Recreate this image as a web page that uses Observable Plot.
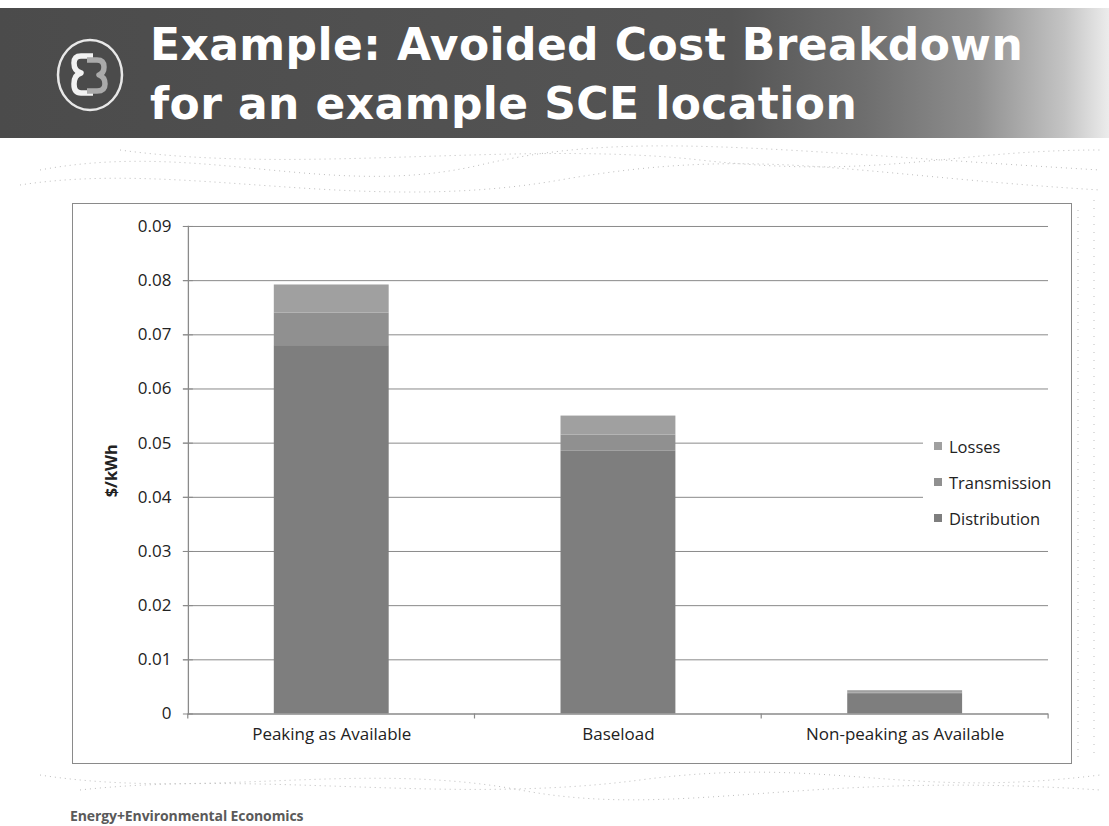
<!DOCTYPE html>
<html>
<head>
<meta charset="utf-8">
<script src="https://cdn.jsdelivr.net/npm/d3@7"></script>
<script src="https://cdn.jsdelivr.net/npm/@observablehq/plot@0.6"></script>
<style>
  html, body { margin: 0; padding: 0; background: #fff; }
  #slide { position: relative; width: 1109px; height: 826px; overflow: hidden; background: #fff; font-family: "Open Sans", "Noto Sans", sans-serif; }
  #header { position: absolute; left: 0; top: 8px; width: 1109px; height: 130px;
    background: linear-gradient(to right, #4b4b4b 0%, #555 66%, #6e6e6e 78%, #8e8e8e 88%, #c4c4c4 96%, #ececec 100%); }
  #title { position: absolute; left: 150px; top: 15px; color: #fff; font-family: "DejaVu Sans", Verdana, sans-serif; font-weight: bold; font-size: 44px; line-height: 59px; letter-spacing: 0.4px; white-space: nowrap; }
  #logo { position: absolute; left: 55px; top: 37px; }
  #deco { position: absolute; left: 0; top: 0; }
  #box { position: absolute; left: 72px; top: 203px; width: 998px; height: 559px; border: 1px solid #8a8a8a; background: #fff; }
  #plot { position: absolute; left: 0; top: 0; }
  #legend { position: absolute; left: 850px; top: 224px; width: 140px; padding-left: 11px; box-sizing: border-box; background: #fff; font-family: "Open Sans", sans-serif; font-size: 16.5px; color: #222; }
  #legend div { height: 36px; display: flex; align-items: center; white-space: nowrap; }
  #legend span.sw { display: inline-block; flex: 0 0 8px; width: 8px; height: 8px; margin-right: 7px; }
  #footer { position: absolute; left: 70px; top: 806px; font-family: "Open Sans", sans-serif; font-weight: bold; font-size: 14px; color: #5a5a5a; letter-spacing: -0.1px; }
</style>
</head>
<body>
<div id="slide">
  <svg id="deco" width="1109" height="826">
    <g fill="none" stroke="#bdbdbd" stroke-width="1" stroke-dasharray="1 4">
      <path d="M40 170 C 200 140, 330 200, 480 165 S 760 150, 1100 170"/>
      <path d="M20 185 C 180 160, 360 215, 560 180 S 850 175, 1100 190"/>
      <path d="M120 150 C 300 175, 520 140, 700 160 S 950 150, 1100 150"/>
      <path d="M40 775 C 200 800, 360 760, 520 790 S 800 770, 1100 790"/>
      <path d="M80 790 C 260 770, 450 805, 640 780 S 900 800, 1100 775"/>
      <path d="M1078 210 L 1078 760" stroke-dasharray="1 6"/>
      <path d="M1094 200 L 1094 760" stroke-dasharray="1 7"/>
    </g>
  </svg>
  <div id="header"></div>
  <svg id="logo" width="70" height="76">
    <ellipse cx="35" cy="38" rx="32" ry="35" fill="#4b4b4b" stroke="#e8e8e8" stroke-width="2.5"/>
    <path d="M38 19 H26 Q19 19 19 26 Q19 34 26 36 Q19 38 19 47 Q19 56 26 56 H38" fill="none" stroke="#f2f2f2" stroke-width="5.5" stroke-linejoin="round"/>
    <path d="M32 23 H42 Q49 23 49 30 Q49 36 44 38 Q50 40 50 47 Q50 54 42 54 H32" fill="none" stroke="#aaaaaa" stroke-width="5.5" stroke-linejoin="round"/>
  </svg>
  <div id="title">Example: Avoided Cost Breakdown<br>for an example SCE location</div>
  <div id="box">
    <div id="plot"></div>
    <div id="legend"></div>
  </div>
  <div id="footer">Energy+Environmental Economics</div>
</div>
<script>
// ---- Data ----
const categories = ["Peaking as Available", "Baseload", "Non-peaking as Available"];
const components = ["Distribution", "Transmission", "Losses"];
const distribution = [0.0680, 0.0485, 0.0036];
const transmission = [0.0060, 0.0030, 0.0003];
const losses       = [0.0052, 0.0035, 0.0004];
const yTicks = [0, 0.01, 0.02, 0.03, 0.04, 0.05, 0.06, 0.07, 0.08, 0.09];
const colors = ["#7e7e7e", "#909090", "#a0a0a0"];

const series = { Distribution: distribution, Transmission: transmission, Losses: losses };
const rows = [];
categories.forEach((c, i) => {
  components.forEach(k => rows.push({ category: c, component: k, value: series[k][i] }));
});

const axisColor = "#8a8a8a";
const chart = Plot.plot({
  width: 999,
  height: 560,
  marginLeft: 115,
  marginRight: 23,
  marginTop: 22,
  marginBottom: 50,
  style: { fontFamily: "'Open Sans', sans-serif", fontSize: "17px", color: "#222", background: "transparent" },
  x: { domain: categories, paddingInner: 0.6, paddingOuter: 0.3, label: null, tickSize: 0, tickPadding: 14 },
  y: { domain: [0, 0.09], ticks: yTicks, tickFormat: d => d === 0 ? "0" : d.toFixed(2), label: null, tickSize: 0, tickPadding: 17 },
  color: { domain: components, range: colors },
  marks: [
    Plot.gridY(yTicks.filter(d => d > 0), { stroke: axisColor, strokeOpacity: 1, strokeWidth: 1, insetLeft: -5 }),
    Plot.barY(rows, { x: "category", y: "value", fill: "component", order: null }),
    Plot.tickY(yTicks, { y: d => d, stroke: axisColor, strokeWidth: 1, insetLeft: -5, insetRight: 856 }),
    Plot.ruleY([0], { stroke: axisColor, strokeWidth: 1.3 }),
    Plot.frame({ anchor: "left", stroke: axisColor, strokeWidth: 1.3 })
  ]
});
document.getElementById("plot").appendChild(chart);

const svg = d3.select(chart);
// category boundary ticks on the x axis, from the library's x scale
const xs = chart.scale("x");
const yPix = chart.scale("y").apply(0);
const step = xs.step;
const bounds = categories.map(c => xs.apply(c) - xs.paddingInner * step / 2);
bounds.push(xs.apply(categories[categories.length - 1]) + xs.bandwidth + xs.paddingInner * step / 2);
svg.append("g").selectAll("line").data(bounds).join("line")
  .attr("x1", d => d).attr("x2", d => d)
  .attr("y1", yPix).attr("y2", yPix + 5)
  .attr("stroke", axisColor).attr("stroke-width", 1.2);

// y-axis title
svg.append("text")
  .attr("transform", "translate(44,267) rotate(-90)")
  .attr("text-anchor", "middle")
  .attr("font-weight", "bold")
  .attr("font-size", 16.5)
  .attr("fill", "#222")
  .text("$/kWh");

// legend
const legend = d3.select("#legend");
["Losses", "Transmission", "Distribution"].forEach(k => {
  const row = legend.append("div");
  row.append("span").attr("class", "sw").style("background", colors[components.indexOf(k)]);
  row.append("span").text(k);
});
</script>
</body>
</html>
